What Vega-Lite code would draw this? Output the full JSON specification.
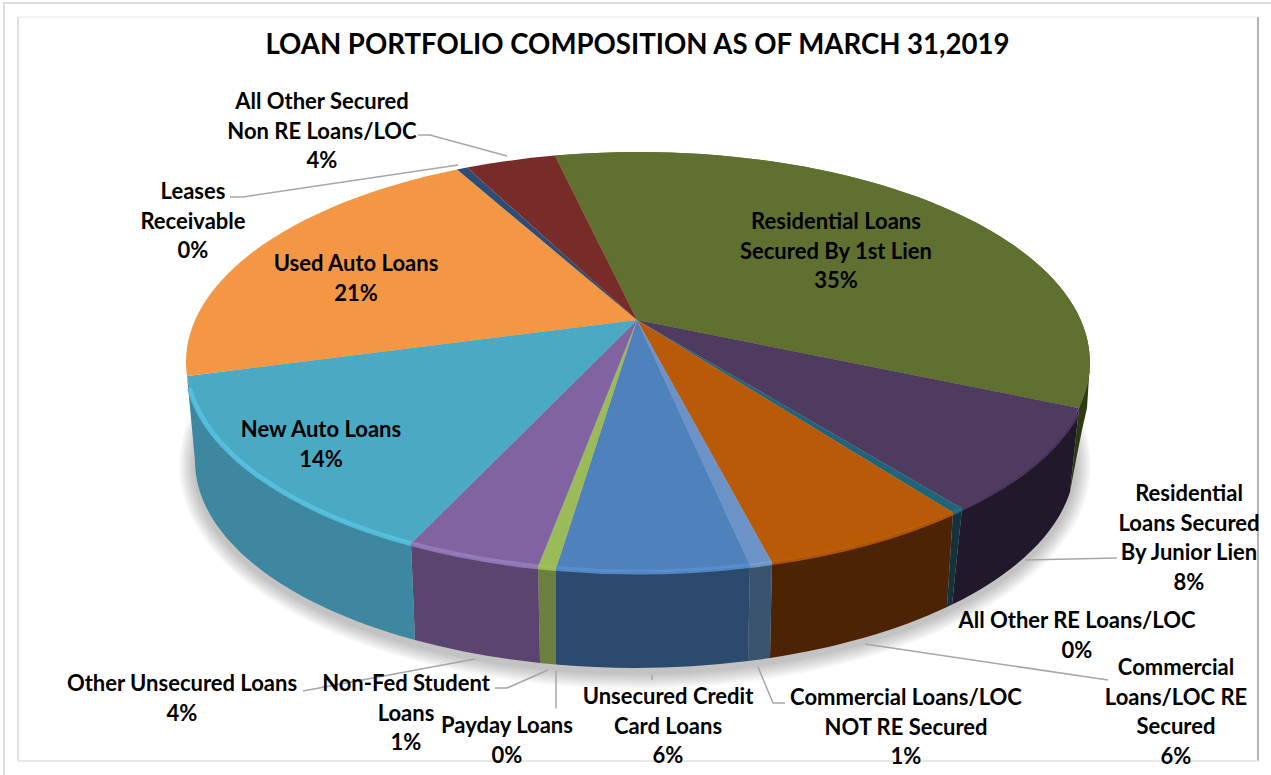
{
"$schema":"https://vega.github.io/schema/vega-lite/v6.json",
"width":1271,"height":775,"padding":0,"autosize":{"type":"none"},"background":"white",
"view":{"stroke":null},
"title":{"text":"LOAN PORTFOLIO COMPOSITION AS OF MARCH 31,2019","font":"Lato","fontWeight":"bold","fontSize":27.6,"color":"#000000","anchor":"middle","baseline":"alphabetic","offset":0,"dy":83,"dx":2},
"datasets":{
"slices":[
{"loan":"Residential Loans Secured By 1st Lien","share":35,"label":"Residential Loans\nSecured By 1st Lien\n35%"},
{"loan":"Residential Loans Secured By Junior Lien","share":8,"label":"Residential\nLoans Secured\nBy Junior Lien\n8%"},
{"loan":"All Other RE Loans/LOC","share":0,"label":"All Other RE Loans/LOC\n0%"},
{"loan":"Commercial Loans/LOC RE Secured","share":6,"label":"Commercial\nLoans/LOC RE\nSecured\n6%"},
{"loan":"Commercial Loans/LOC NOT RE Secured","share":1,"label":"Commercial Loans/LOC\nNOT RE Secured\n1%"},
{"loan":"Unsecured Credit Card Loans","share":6,"label":"Unsecured Credit\nCard Loans\n6%"},
{"loan":"Payday Loans","share":0,"label":"Payday Loans\n0%"},
{"loan":"Non-Fed Student Loans","share":1,"label":"Non-Fed Student\nLoans\n1%"},
{"loan":"Other Unsecured Loans","share":4,"label":"Other Unsecured Loans\n4%"},
{"loan":"New Auto Loans","share":14,"label":"New Auto Loans\n14%"},
{"loan":"Used Auto Loans","share":21,"label":"Used Auto Loans\n21%"},
{"loan":"Leases Receivable","share":0,"label":"Leases\nReceivable\n0%"},
{"loan":"All Other Secured Non RE Loans/LOC","share":4,"label":"All Other Secured\nNon RE Loans/LOC\n4%"}
]},
"data":{"name":"slices"},
"resolve":{"scale":{"color":"independent","shape":"independent"}},
"layer":[
{"data":{"values":[{"part":"outer"},{"part":"innerTop"},{"part":"innerLeft"},{"part":"innerRight"},{"part":"innerBottom"}]},
 "mark":{"type":"point","size":4,"filled":false,"opacity":1,"strokeWidth":2},
 "encoding":{
  "shape":{"field":"part","type":"nominal","legend":null,"scale":{"domain":["outer","innerTop","innerLeft","innerRight","innerBottom"],"range":["M-631.5,387.5 L-631.5,-384.5 L635.5,-384.5","M-617.5,-370.5 L622.5,-370.5","M-617.5,373.5 L-617.5,-370.5","M622.5,-370.5 L622.5,373.5","M-617.5,373.5 L622.5,373.5"]}},
  "color":{"field":"part","type":"nominal","legend":null,"scale":{"domain":["outer","innerTop","innerLeft","innerRight","innerBottom"],"range":["#dcdcdc","#f3f3f3","#dedede","#b4b4b4","#e8e8e8"]}}}},
{"data":{"values":[{"ring":"a"},{"ring":"b"},{"ring":"c"},{"ring":"d"},{"ring":"e"},{"ring":"f"},{"ring":"g"},{"ring":"h"}]},
 "mark":{"type":"point","size":4,"filled":true,"opacity":0.03,"color":"#000000","strokeWidth":0},
 "encoding":{"shape":{"field":"ring","type":"nominal","legend":null,"scale":{"domain":["a","b","c","d","e","f","g","h"],"range":[
  "M-456.5,78 A456 223 0 1 1 455.5,78 A456 223 0 1 1 -456.5,78 Z",
  "M-454.5,78 A454 221 0 1 1 453.5,78 A454 221 0 1 1 -454.5,78 Z",
  "M-452.5,78 A452 219 0 1 1 451.5,78 A452 219 0 1 1 -452.5,78 Z",
  "M-450.5,78 A450 217 0 1 1 449.5,78 A450 217 0 1 1 -450.5,78 Z",
  "M-448.5,78 A448 215 0 1 1 447.5,78 A448 215 0 1 1 -448.5,78 Z",
  "M-446.5,78 A446 213 0 1 1 445.5,78 A446 213 0 1 1 -446.5,78 Z",
  "M-444.5,78 A444 211 0 1 1 443.5,78 A444 211 0 1 1 -444.5,78 Z",
  "M-442.5,78 A442 209 0 1 1 441.5,78 A442 209 0 1 1 -442.5,78 Z"]}}}},
{"transform":[{"filter":{"field":"loan","oneOf":["Residential Loans Secured By 1st Lien","Residential Loans Secured By Junior Lien","All Other RE Loans/LOC","Commercial Loans/LOC RE Secured","Commercial Loans/LOC NOT RE Secured","Unsecured Credit Card Loans","Payday Loans","Non-Fed Student Loans","Other Unsecured Loans"]}}],
 "mark":{"type":"point","size":4,"filled":true,"opacity":1,"strokeWidth":0},
 "encoding":{
 "shape":{"field":"loan","type":"nominal","legend":null,"scale":{"domain":["Residential Loans Secured By 1st Lien","Residential Loans Secured By Junior Lien","All Other RE Loans/LOC","Commercial Loans/LOC RE Secured","Commercial Loans/LOC NOT RE Secured","Unsecured Credit Card Loans","Payday Loans","Non-Fed Student Loans","Other Unsecured Loans"],"range":[
 "M454.5,-25.5 L451.5,20.5 L446.5,42.5 L440.5,72.5 L434.5,104.5 L443.5,20.5 Z",
 "M443.5,20.5 A452 210 0 0 1 326.5,120.9 L316.5,217.1 A440 207 0 0 0 434.5,104.5 Z",
 "M326.5,120.9 A452 210 0 0 1 317.5,125.1 L311.5,219.5 A440 207 0 0 0 316.5,217.1 Z",
 "M317.5,125.1 A452 210 0 0 1 136.5,175.1 L134.5,270.5 A440 207 0 0 0 311.5,219.5 Z",
 "M136.5,175.1 A452 210 0 0 1 114.5,178 L112.5,273.5 A440 207 0 0 0 134.5,270.5 Z",
 "M114.5,178 A452 210 0 0 1 -79.5,181 L-79.5,277.1 A440 207 0 0 0 112.5,273.5 Z",
 "M-79.5,181 A452 210 0 0 1 -97.5,179.3 L-95.5,275.5 A440 207 0 0 0 -79.5,277.1 Z",
 "M-97.5,179.3 A452 210 0 0 1 -224.5,156.1 L-220.5,252.5 A440 207 0 0 0 -95.5,275.5 Z",
 "M-224.5,156.1 A452 210 0 0 1 -448.5,-11.5 L-440.5,73.5 A440 207 0 0 0 -220.5,252.5 Z"]}},
 "color":{"field":"loan","type":"nominal","legend":null,"scale":{"domain":["Residential Loans Secured By 1st Lien","Residential Loans Secured By Junior Lien","All Other RE Loans/LOC","Commercial Loans/LOC RE Secured","Commercial Loans/LOC NOT RE Secured","Unsecured Credit Card Loans","Payday Loans","Non-Fed Student Loans","Other Unsecured Loans"],"range":["#2E3A14","#21182B","#12333E","#4C2405","#3A5470","#2B4A6E","#6B7F3E","#5B4470","#3E87A1"]}}}},
{"mark":{"type":"point","size":4,"filled":true,"opacity":1,"strokeWidth":0},
 "encoding":{
 "shape":{"field":"loan","type":"nominal","legend":null,"scale":{"domain":["Residential Loans Secured By 1st Lien","Residential Loans Secured By Junior Lien","All Other RE Loans/LOC","Commercial Loans/LOC RE Secured","Commercial Loans/LOC NOT RE Secured","Unsecured Credit Card Loans","Payday Loans","Non-Fed Student Loans","Other Unsecured Loans","New Auto Loans","Used Auto Loans","Leases Receivable","All Other Secured Non RE Loans/LOC"],"range":[
 "M1.5,-67.5 L-80.5,-231.9 A452 210 0 0 1 443.5,20.5 Z",
 "M1.5,-67.5 L443.5,20.5 A452 210 0 0 1 326.5,120.9 Z",
 "M1.5,-67.5 L326.5,120.9 A452 210 0 0 1 317.5,125.1 Z",
 "M1.5,-67.5 L317.5,125.1 A452 210 0 0 1 136.5,175.1 Z",
 "M1.5,-67.5 L136.5,175.1 A452 210 0 0 1 114.5,178 Z",
 "M1.5,-67.5 L114.5,178 A452 210 0 0 1 -79.5,181 Z",
 "M1.5,-67.5 L-79.5,181 A452 210 0 0 1 -97.5,179.3 Z",
 "M1.5,-67.5 L-97.5,179.3 A452 210 0 0 1 -224.5,156.1 Z",
 "M1.5,-67.5 L-224.5,156.1 A452 210 0 0 1 -448.5,-11.5 Z",
 "M1.5,-67.5 L-448.5,-11.5 A452 210 0 0 1 -178.5,-217.9 Z",
 "M1.5,-67.5 L-178.5,-217.9 A452 210 0 0 1 -168.5,-219.9 Z",
 "M1.5,-67.5 L-168.5,-219.9 A452 210 0 0 1 -80.5,-231.9 Z"]}},
 "color":{"field":"loan","type":"nominal","legend":null,"scale":{"domain":["Residential Loans Secured By 1st Lien","Residential Loans Secured By Junior Lien","All Other RE Loans/LOC","Commercial Loans/LOC RE Secured","Commercial Loans/LOC NOT RE Secured","Unsecured Credit Card Loans","Payday Loans","Non-Fed Student Loans","Other Unsecured Loans","New Auto Loans","Used Auto Loans","Leases Receivable","All Other Secured Non RE Loans/LOC"],"range":["#607030","#4F3A60","#1F6478","#B85A07","#6C93C7","#4F81BD","#9BBB59","#8064A2","#4AA9C3","#F49745","#2C4D75","#772C2A"]}}}},
{"transform":[{"filter":{"field":"loan","oneOf":["Residential Loans Secured By Junior Lien","All Other RE Loans/LOC","Commercial Loans/LOC RE Secured","Commercial Loans/LOC NOT RE Secured","Unsecured Credit Card Loans","Payday Loans","Non-Fed Student Loans","Other Unsecured Loans"]}}],
 "mark":{"type":"point","size":4,"filled":false,"opacity":0.85,"strokeWidth":5},
 "encoding":{
 "shape":{"field":"loan","type":"nominal","legend":null,"scale":{"domain":["Residential Loans Secured By Junior Lien","All Other RE Loans/LOC","Commercial Loans/LOC RE Secured","Commercial Loans/LOC NOT RE Secured","Unsecured Credit Card Loans","Payday Loans","Non-Fed Student Loans","Other Unsecured Loans"],"range":[
 "M441.5,26 A452 210 0 0 1 326.5,120.9",
 "M326.5,120.9 A452 210 0 0 1 317.5,125.1",
 "M317.5,125.1 A452 210 0 0 1 136.5,175.1",
 "M136.5,175.1 A452 210 0 0 1 114.5,178",
 "M114.5,178 A452 210 0 0 1 -79.5,181",
 "M-79.5,181 A452 210 0 0 1 -97.5,179.3",
 "M-97.5,179.3 A452 210 0 0 1 -224.5,156.1",
 "M-224.5,156.1 A452 210 0 0 1 -445.9,1"]}},
 "color":{"field":"loan","type":"nominal","legend":null,"scale":{"domain":["Residential Loans Secured By Junior Lien","All Other RE Loans/LOC","Commercial Loans/LOC RE Secured","Commercial Loans/LOC NOT RE Secured","Unsecured Credit Card Loans","Payday Loans","Non-Fed Student Loans","Other Unsecured Loans"],"range":["#503C63","#256F85","#BC5D08","#7A9FD0","#5A90D2","#A4C25C","#9A7DC0","#57C4E2"]}}}},
{"transform":[{"filter":{"field":"loan","oneOf":["Residential Loans Secured By Junior Lien","Commercial Loans/LOC RE Secured","Commercial Loans/LOC NOT RE Secured","Unsecured Credit Card Loans","Payday Loans","Non-Fed Student Loans","Other Unsecured Loans","Leases Receivable","All Other Secured Non RE Loans/LOC"]}}],
 "mark":{"type":"point","size":4,"filled":false,"opacity":1,"strokeWidth":1.5,"color":"#a6a6a6"},
 "encoding":{"shape":{"field":"loan","type":"nominal","legend":null,"scale":{"domain":["Residential Loans Secured By Junior Lien","Commercial Loans/LOC RE Secured","Commercial Loans/LOC NOT RE Secured","Unsecured Credit Card Loans","Payday Loans","Non-Fed Student Loans","Other Unsecured Loans","Leases Receivable","All Other Secured Non RE Loans/LOC"],"range":[
 "M389.5,172.5 L481.5,170.5",
 "M229.5,256.5 L472.5,292.5",
 "M122.5,279.5 L137.5,315.5 L149.5,315.5",
 "M16.5,287.5 L16.5,292.5",
 "M-79.5,283.5 L-79.5,321",
 "M-87.5,282.5 L-128.5,300.5 L-140.5,300.5",
 "M-160.5,271.5 L-332.5,303.5",
 "M-405.5,-190.5 L-392.5,-190.5 L-177.5,-222.5",
 "M-217.5,-252.5 L-205.5,-252.5 L-128.5,-231.5"]}}}},
{"transform":[{"filter":{"field":"loan","equal":"Residential Loans Secured By 1st Lien"}}],"mark":{"type":"text","font":"Lato","fontWeight":"bold","fontSize":22,"lineBreak":"\n","lineHeight":29.5,"align":"center","baseline":"alphabetic","color":"#000000","dx":200.5,"dy":-158.5},"encoding":{"text":{"field":"label"}}},
{"transform":[{"filter":{"field":"loan","equal":"Residential Loans Secured By Junior Lien"}}],"mark":{"type":"text","font":"Lato","fontWeight":"bold","fontSize":22,"lineBreak":"\n","lineHeight":29.5,"align":"center","baseline":"alphabetic","color":"#000000","dx":553.5,"dy":113.5},"encoding":{"text":{"field":"label"}}},
{"transform":[{"filter":{"field":"loan","equal":"All Other RE Loans/LOC"}}],"mark":{"type":"text","font":"Lato","fontWeight":"bold","fontSize":22,"lineBreak":"\n","lineHeight":29.5,"align":"center","baseline":"alphabetic","color":"#000000","dx":441.5,"dy":240.5},"encoding":{"text":{"field":"label"}}},
{"transform":[{"filter":{"field":"loan","equal":"Commercial Loans/LOC RE Secured"}}],"mark":{"type":"text","font":"Lato","fontWeight":"bold","fontSize":22,"lineBreak":"\n","lineHeight":29.5,"align":"center","baseline":"alphabetic","color":"#000000","dx":540.5,"dy":287.5},"encoding":{"text":{"field":"label"}}},
{"transform":[{"filter":{"field":"loan","equal":"Commercial Loans/LOC NOT RE Secured"}}],"mark":{"type":"text","font":"Lato","fontWeight":"bold","fontSize":22,"lineBreak":"\n","lineHeight":29.5,"align":"center","baseline":"alphabetic","color":"#000000","dx":270.5,"dy":317.5},"encoding":{"text":{"field":"label"}}},
{"transform":[{"filter":{"field":"loan","equal":"Unsecured Credit Card Loans"}}],"mark":{"type":"text","font":"Lato","fontWeight":"bold","fontSize":22,"lineBreak":"\n","lineHeight":29.5,"align":"center","baseline":"alphabetic","color":"#000000","dx":32.5,"dy":316.5},"encoding":{"text":{"field":"label"}}},
{"transform":[{"filter":{"field":"loan","equal":"Payday Loans"}}],"mark":{"type":"text","font":"Lato","fontWeight":"bold","fontSize":22,"lineBreak":"\n","lineHeight":29.5,"align":"center","baseline":"alphabetic","color":"#000000","dx":-128.5,"dy":345.5},"encoding":{"text":{"field":"label"}}},
{"transform":[{"filter":{"field":"loan","equal":"Non-Fed Student Loans"}}],"mark":{"type":"text","font":"Lato","fontWeight":"bold","fontSize":22,"lineBreak":"\n","lineHeight":29.5,"align":"center","baseline":"alphabetic","color":"#000000","dx":-229.5,"dy":303.5},"encoding":{"text":{"field":"label"}}},
{"transform":[{"filter":{"field":"loan","equal":"Other Unsecured Loans"}}],"mark":{"type":"text","font":"Lato","fontWeight":"bold","fontSize":22,"lineBreak":"\n","lineHeight":29.5,"align":"center","baseline":"alphabetic","color":"#000000","dx":-453.5,"dy":303.5},"encoding":{"text":{"field":"label"}}},
{"transform":[{"filter":{"field":"loan","equal":"New Auto Loans"}}],"mark":{"type":"text","font":"Lato","fontWeight":"bold","fontSize":22,"lineBreak":"\n","lineHeight":29.5,"align":"center","baseline":"alphabetic","color":"#000000","dx":-314.5,"dy":49.5},"encoding":{"text":{"field":"label"}}},
{"transform":[{"filter":{"field":"loan","equal":"Used Auto Loans"}}],"mark":{"type":"text","font":"Lato","fontWeight":"bold","fontSize":22,"lineBreak":"\n","lineHeight":29.5,"align":"center","baseline":"alphabetic","color":"#000000","dx":-279.5,"dy":-116.5},"encoding":{"text":{"field":"label"}}},
{"transform":[{"filter":{"field":"loan","equal":"Leases Receivable"}}],"mark":{"type":"text","font":"Lato","fontWeight":"bold","fontSize":22,"lineBreak":"\n","lineHeight":29.5,"align":"center","baseline":"alphabetic","color":"#000000","dx":-442.5,"dy":-188.5},"encoding":{"text":{"field":"label"}}},
{"transform":[{"filter":{"field":"loan","equal":"All Other Secured Non RE Loans/LOC"}}],"mark":{"type":"text","font":"Lato","fontWeight":"bold","fontSize":22,"lineBreak":"\n","lineHeight":29.5,"align":"center","baseline":"alphabetic","color":"#000000","dx":-313.5,"dy":-278.5},"encoding":{"text":{"field":"label"}}}
]}
